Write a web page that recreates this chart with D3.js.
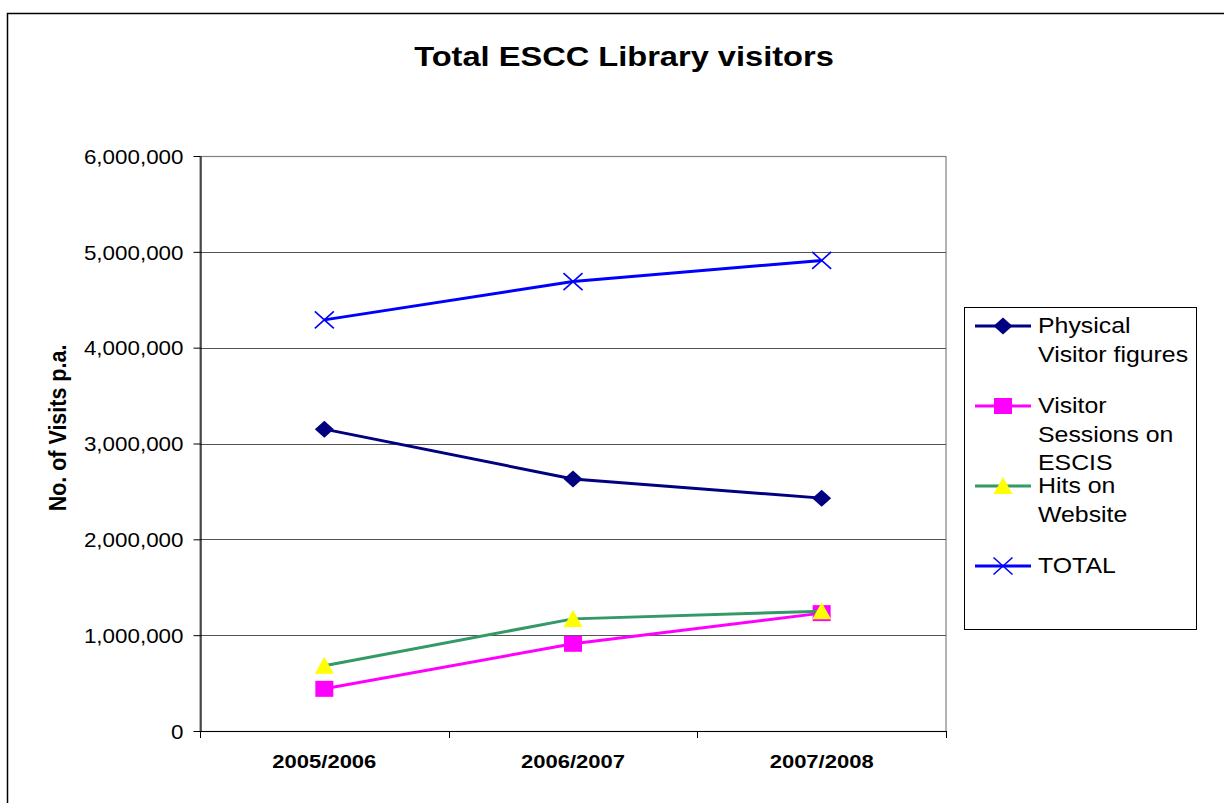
<!DOCTYPE html>
<html>
<head>
<meta charset="utf-8">
<script src="https://cdn.jsdelivr.net/npm/d3@7"></script>
<style>
  html, body { margin: 0; padding: 0; background: #fff; }
  svg { display: block; }
  text { font-family: "Liberation Sans", Arial, sans-serif; fill: #000; }
</style>
</head>
<body>
<svg id="chart" width="1224" height="803"></svg>
<script>
// ---- data ----
const categories = ["2005/2006", "2006/2007", "2007/2008"];
const physicalVisitors = [3150000, 2630000, 2430000];
const visitorSessions = [440000, 910000, 1230000];
const websiteHits = [680000, 1170000, 1250000];
const totalVisits = [4290000, 4690000, 4910000];
const yTickValues = [0, 1000000, 2000000, 3000000, 4000000, 5000000, 6000000];
const seriesNames = ["Physical Visitor figures", "Visitor Sessions on ESCIS", "Hits on Website", "TOTAL"];
const legendLines = [["Physical", "Visitor figures"], ["Visitor", "Sessions on", "ESCIS"], ["Hits on", "Website"], ["TOTAL"]];
const titleText = "Total ESCC Library visitors";
const yTitle = "No. of Visits p.a.";

const series = [
  { name: seriesNames[0], values: physicalVisitors, line: "#000080", fill: "#000080", marker: "diamond" },
  { name: seriesNames[1], values: visitorSessions, line: "#FF00FF", fill: "#FF00FF", marker: "square" },
  { name: seriesNames[2], values: websiteHits, line: "#339966", fill: "#FFFF00", marker: "triangle" },
  { name: seriesNames[3], values: totalVisits, line: "#0000FF", fill: "none", marker: "cross" }
];

const svg = d3.select("#chart");
const plot = { left: 200, right: 946, top: 156, bottom: 731 };

// outer border
svg.append("rect").attr("x", 7.5).attr("y", 13.5).attr("width", 1400).attr("height", 1000)
  .attr("fill", "none").attr("stroke", "#000").attr("stroke-width", 1.5);

// title
svg.append("text")
  .attr("transform", `translate(624,66) scale(1.165,1)`)
  .attr("text-anchor", "middle").attr("font-size", 28).attr("font-weight", "bold")
  .text(titleText);

const x = d3.scaleBand().domain(categories).range([plot.left, plot.right]).padding(0);
const y = d3.scaleLinear().domain([0, 6000000]).range([plot.bottom, plot.top]);

// plot area border
svg.append("rect").attr("x", plot.left).attr("y", plot.top + 0.5)
  .attr("width", plot.right - plot.left).attr("height", plot.bottom - plot.top)
  .attr("fill", "#fff").attr("stroke", "#808080").attr("stroke-width", 1.2);

// gridlines
svg.append("g").selectAll("line").data(yTickValues.filter(d => d > 0 && d < 6000000)).join("line")
  .attr("x1", plot.left).attr("x2", plot.right)
  .attr("y1", d => Math.round(y(d)) + 0.5).attr("y2", d => Math.round(y(d)) + 0.5)
  .attr("stroke", "#555").attr("stroke-width", 1);

// y axis
const yAxis = svg.append("g").attr("transform", `translate(${plot.left + 0.5},0)`)
  .call(d3.axisLeft(y).tickValues(yTickValues).tickFormat(d3.format(",")).tickSize(7).tickSizeOuter(0));
yAxis.select(".domain").attr("stroke", "#000").attr("stroke-width", 1.2);
yAxis.selectAll(".tick line").attr("stroke", "#000");
yAxis.selectAll(".tick text")
  .attr("x", 0).attr("dy", "0.36em")
  .attr("transform", `translate(-17,0) scale(1.12,1)`)
  .attr("font-size", 20).attr("font-family", "Liberation Sans, Arial, sans-serif").attr("fill", "#000");

// x axis line and boundary ticks
const boundaries = categories.map(c => x(c)).concat([x(categories[categories.length - 1]) + x.bandwidth()]);
svg.append("line").attr("x1", plot.left).attr("x2", plot.right)
  .attr("y1", plot.bottom + 0.5).attr("y2", plot.bottom + 0.5).attr("stroke", "#000").attr("stroke-width", 1.2);
svg.append("g").selectAll("line").data(boundaries).join("line")
  .attr("x1", d => Math.round(d) + 0.5).attr("x2", d => Math.round(d) + 0.5)
  .attr("y1", plot.bottom).attr("y2", plot.bottom + 7).attr("stroke", "#000");
svg.append("g").selectAll("text").data(categories).join("text")
  .attr("transform", d => `translate(${x(d) + x.bandwidth() / 2},768) scale(1.19,1)`)
  .attr("text-anchor", "middle").attr("font-size", 18.5).attr("font-weight", "bold")
  .text(d => d);

// y title
svg.append("text")
  .attr("transform", `translate(66,428) rotate(-90) scale(1,1.12)`)
  .attr("text-anchor", "middle").attr("font-size", 21.5).attr("font-weight", "bold")
  .text(yTitle);

// marker drawing
function drawMarker(g, type, fill, stroke) {
  if (type === "diamond") {
    g.append("path").attr("d", "M0,-8.5 L9.5,0 L0,8.5 L-9.5,0 Z").attr("fill", fill);
  } else if (type === "square") {
    g.append("rect").attr("x", -9).attr("y", -8).attr("width", 18).attr("height", 16).attr("fill", fill);
  } else if (type === "triangle") {
    g.append("path").attr("d", "M0,-9 L9.5,8 L-9.5,8 Z").attr("fill", fill);
  } else if (type === "cross") {
    g.append("path").attr("d", "M-9.5,-8.5 L9.5,8.5 M-9.5,8.5 L9.5,-8.5").attr("stroke", stroke).attr("stroke-width", 1.6).attr("fill", "none");
  }
}

const lineGen = d3.line().x((d, i) => x(categories[i]) + x.bandwidth() / 2).y(d => y(d));

series.forEach(s => {
  svg.append("path").datum(s.values).attr("d", lineGen)
    .attr("fill", "none").attr("stroke", s.line).attr("stroke-width", 3).attr("stroke-linejoin", "round");
  s.values.forEach((v, i) => {
    const g = svg.append("g").attr("transform", `translate(${x(categories[i]) + x.bandwidth() / 2},${y(v)})`);
    drawMarker(g, s.marker, s.fill, s.line);
  });
});

// legend
svg.append("rect").attr("x", 964.5).attr("y", 307.5).attr("width", 232).attr("height", 322)
  .attr("fill", "#fff").attr("stroke", "#000").attr("stroke-width", 1);
series.forEach((s, k) => {
  const baseY = 333 + k * 80;
  const my = baseY - 7;
  svg.append("line").attr("x1", 975).attr("x2", 1031).attr("y1", my).attr("y2", my)
    .attr("stroke", s.line).attr("stroke-width", 3);
  const g = svg.append("g").attr("transform", `translate(1003,${my})`);
  drawMarker(g, s.marker, s.fill, s.line);
  legendLines[k].forEach((t, j) => {
    svg.append("text")
      .attr("transform", `translate(1038,${baseY + j * 28.5}) scale(1.13,1)`)
      .attr("font-size", 22).text(t);
  });
});
</script>
</body>
</html>
